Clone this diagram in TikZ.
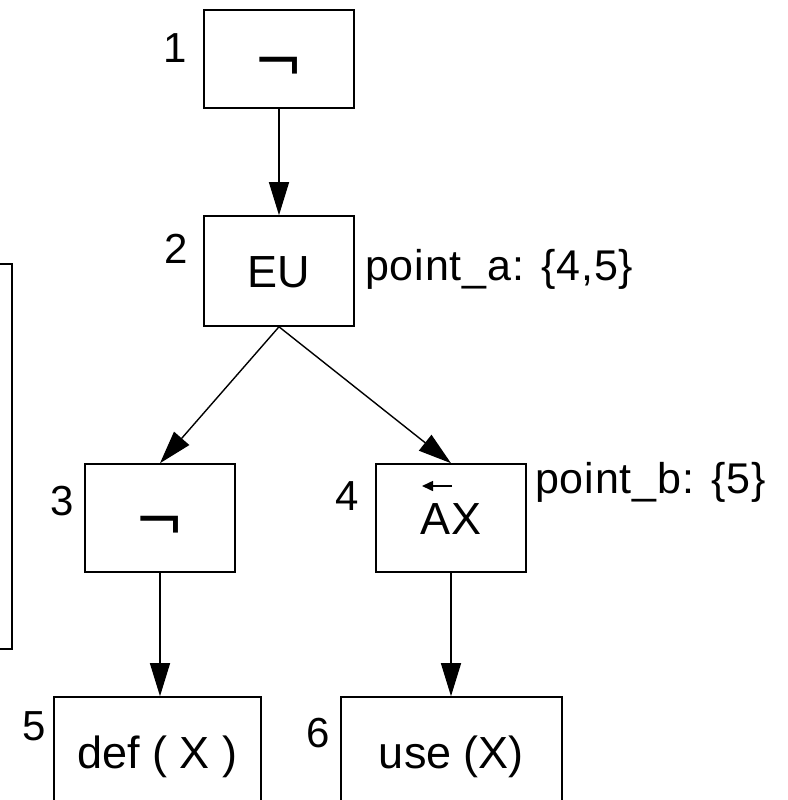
\documentclass[tikz,border=0pt]{standalone}
\usepackage{fontspec}
\setmainfont{Liberation Sans}
\newfontfamily\negfont{DejaVu Sans}
\usetikzlibrary{arrows.meta,calc}
\begin{document}
\begin{tikzpicture}[x=1pt,y=-1pt,
  box/.style={draw, line width=1.6pt, minimum width=150pt, minimum height=108pt, inner sep=0pt, font=\fontsize{45}{50}\selectfont},
  captext/.style={text height=32pt, text depth=0pt},
  negtext/.style={font=\negfont\fontsize{60}{70}\selectfont, text height=46pt, text depth=0pt},
  num/.style={anchor=base, inner sep=0pt, font=\fontsize{42}{48}\selectfont},
  ann/.style={anchor=base west, inner sep=0pt, font=\fontsize{43}{48}\selectfont\addfontfeature{LetterSpace=2}},
  arr/.style={line width=1.4pt, -{Triangle[length=33pt,width=20pt]}},
  smallarr/.style={line width=1.6pt, -{Triangle[length=11pt,width=10pt]}}
]
\clip (0,0) rectangle (787,800);
% partial box at the left edge
\draw[line width=1.6pt] (-20,264) rectangle (12,649);
% boxes
\node[box, negtext, minimum height=98pt] (n1) at (279,59) {¬};
\node[box, captext, minimum height=110pt] (n2) at (279,271) {EU};
\node[box, negtext] (n3) at (160,518) {¬};
\node[box, captext] (n4) at (451,518) {AX};
\node[box, captext, minimum width=207pt, minimum height=110pt] (n5) at (157.5,752) {def ( X )};
\node[box, captext, minimum width=221pt, minimum height=110pt] (n6) at (451.5,752) {use (X)};
% arrow over A
\draw[smallarr] ($(n4.center)+(1,-32)$) -- ($(n4.center)+(-29,-32)$);
% connectors
\draw[arr] (n1.south) -- (n2.north);
\draw[arr] (n2.south) -- (n3.north);
\draw[arr] (n2.south) -- (n4.north);
\draw[arr] (n3.south) -- (n3.south |- n5.north);
\draw[arr] (n4.south) -- (n4.south |- n6.north);
% numbers
\node[num] (l1) at (175,63) {1};
\node[num] (l2) at (176,263) {2};
\node[num] (l3) at (62,515) {3};
\node[num] (l4) at (347,510) {4};
\node[num] (l5) at (34,740) {5};
\node[num] (l6) at (318,747) {6};
% annotations
\node[ann] (pa) at (365,280) {point\_a: \{4,5\}};
\node[ann] (pb) at (535,493) {point\_b: \{5\}};
\end{tikzpicture}
\end{document}
